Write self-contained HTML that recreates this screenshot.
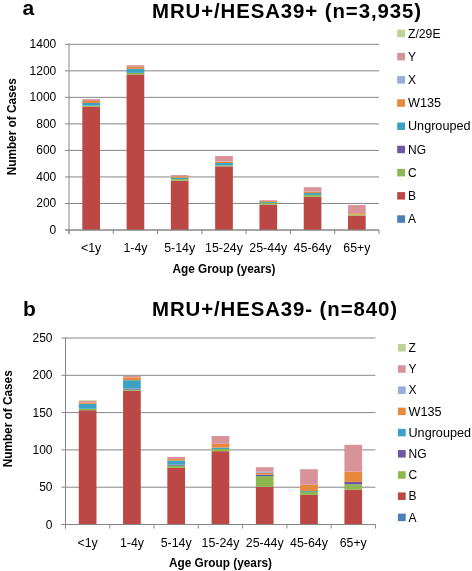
<!DOCTYPE html>
<html><head><meta charset="utf-8"><style>
html,body{margin:0;padding:0;background:#fff;}
body{width:472px;height:571px;overflow:hidden;font-family:"Liberation Sans",sans-serif;}
svg{display:block;will-change:transform;}
</style></head><body>
<svg width="472" height="571" viewBox="0 0 472 571" font-family="Liberation Sans, sans-serif" fill="#000">
<rect x="0" y="0" width="472" height="571" fill="#fff"/>
<line x1="65.0" y1="230.00" x2="379.0" y2="230.00" stroke="#868686" stroke-width="1"/>
<text x="56.30" y="233.90" font-size="12" text-anchor="end" >0</text>
<line x1="65.0" y1="203.47" x2="379.0" y2="203.47" stroke="#868686" stroke-width="1"/>
<text x="56.30" y="207.37" font-size="12" text-anchor="end" >200</text>
<line x1="65.0" y1="176.94" x2="379.0" y2="176.94" stroke="#868686" stroke-width="1"/>
<text x="56.30" y="180.84" font-size="12" text-anchor="end" >400</text>
<line x1="65.0" y1="150.41" x2="379.0" y2="150.41" stroke="#868686" stroke-width="1"/>
<text x="56.30" y="154.31" font-size="12" text-anchor="end" >600</text>
<line x1="65.0" y1="123.89" x2="379.0" y2="123.89" stroke="#868686" stroke-width="1"/>
<text x="56.30" y="127.79" font-size="12" text-anchor="end" >800</text>
<line x1="65.0" y1="97.36" x2="379.0" y2="97.36" stroke="#868686" stroke-width="1"/>
<text x="56.30" y="101.26" font-size="12" text-anchor="end" >1000</text>
<line x1="65.0" y1="70.83" x2="379.0" y2="70.83" stroke="#868686" stroke-width="1"/>
<text x="56.30" y="74.73" font-size="12" text-anchor="end" >1200</text>
<line x1="65.0" y1="44.30" x2="379.0" y2="44.30" stroke="#868686" stroke-width="1"/>
<text x="56.30" y="48.20" font-size="12" text-anchor="end" >1400</text>
<rect x="82.29" y="106.60" width="17.70" height="123.40" fill="#BB4845"/>
<rect x="82.29" y="105.70" width="17.70" height="0.90" fill="#8DB84F"/>
<rect x="82.29" y="103.00" width="17.70" height="2.70" fill="#3AA3C4"/>
<rect x="82.29" y="101.00" width="17.70" height="2.00" fill="#E8883A"/>
<rect x="82.29" y="99.10" width="17.70" height="1.90" fill="#D8939A"/>
<text x="91.14" y="251.80" font-size="12" text-anchor="middle" textLength="20.3" lengthAdjust="spacingAndGlyphs">&lt;1y</text>
<rect x="126.58" y="74.40" width="17.70" height="155.60" fill="#BB4845"/>
<rect x="126.58" y="72.90" width="17.70" height="1.50" fill="#8DB84F"/>
<rect x="126.58" y="68.80" width="17.70" height="4.10" fill="#3AA3C4"/>
<rect x="126.58" y="66.90" width="17.70" height="1.90" fill="#E8883A"/>
<rect x="126.58" y="65.20" width="17.70" height="1.70" fill="#D8939A"/>
<text x="135.43" y="251.80" font-size="12" text-anchor="middle" textLength="24.0" lengthAdjust="spacingAndGlyphs">1-4y</text>
<rect x="170.86" y="180.70" width="17.70" height="49.30" fill="#BB4845"/>
<rect x="170.86" y="179.10" width="17.70" height="1.60" fill="#8DB84F"/>
<rect x="170.86" y="177.70" width="17.70" height="1.40" fill="#3AA3C4"/>
<rect x="170.86" y="176.30" width="17.70" height="1.40" fill="#E8883A"/>
<rect x="170.86" y="175.10" width="17.70" height="1.20" fill="#D8939A"/>
<text x="179.71" y="251.80" font-size="12" text-anchor="middle" textLength="31.0" lengthAdjust="spacingAndGlyphs">5-14y</text>
<rect x="215.15" y="166.30" width="17.70" height="63.70" fill="#BB4845"/>
<rect x="215.15" y="165.40" width="17.70" height="0.90" fill="#8DB84F"/>
<rect x="215.15" y="163.00" width="17.70" height="2.40" fill="#3AA3C4"/>
<rect x="215.15" y="161.60" width="17.70" height="1.40" fill="#E8883A"/>
<rect x="215.15" y="156.00" width="17.70" height="5.60" fill="#D8939A"/>
<text x="224.00" y="251.80" font-size="12" text-anchor="middle" textLength="37.9" lengthAdjust="spacingAndGlyphs">15-24y</text>
<rect x="259.44" y="204.60" width="17.70" height="25.40" fill="#BB4845"/>
<rect x="259.44" y="202.90" width="17.70" height="1.70" fill="#8DB84F"/>
<rect x="259.44" y="201.90" width="17.70" height="1.00" fill="#3AA3C4"/>
<rect x="259.44" y="201.00" width="17.70" height="0.90" fill="#E8883A"/>
<rect x="259.44" y="200.20" width="17.70" height="0.80" fill="#D8939A"/>
<text x="268.29" y="251.80" font-size="12" text-anchor="middle" textLength="37.9" lengthAdjust="spacingAndGlyphs">25-44y</text>
<rect x="303.72" y="196.80" width="17.70" height="33.20" fill="#BB4845"/>
<rect x="303.72" y="194.90" width="17.70" height="1.90" fill="#8DB84F"/>
<rect x="303.72" y="193.00" width="17.70" height="1.90" fill="#3AA3C4"/>
<rect x="303.72" y="191.60" width="17.70" height="1.40" fill="#E8883A"/>
<rect x="303.72" y="187.20" width="17.70" height="4.40" fill="#D8939A"/>
<text x="312.57" y="251.80" font-size="12" text-anchor="middle" textLength="37.9" lengthAdjust="spacingAndGlyphs">45-64y</text>
<rect x="348.01" y="215.70" width="17.70" height="14.30" fill="#BB4845"/>
<rect x="348.01" y="214.50" width="17.70" height="1.20" fill="#8DB84F"/>
<rect x="348.01" y="213.20" width="17.70" height="1.30" fill="#E8883A"/>
<rect x="348.01" y="205.00" width="17.70" height="8.20" fill="#D8939A"/>
<text x="356.86" y="251.80" font-size="12" text-anchor="middle" textLength="27.0" lengthAdjust="spacingAndGlyphs">65+y</text>
<line x1="69.0" y1="43.80" x2="69.0" y2="234.0" stroke="#868686" stroke-width="1"/>
<line x1="65.0" y1="230.00" x2="379.0" y2="230.00" stroke="#868686" stroke-width="1"/>
<line x1="69.00" y1="230.00" x2="69.00" y2="234.00" stroke="#868686" stroke-width="1"/>
<line x1="113.29" y1="230.00" x2="113.29" y2="234.00" stroke="#868686" stroke-width="1"/>
<line x1="157.57" y1="230.00" x2="157.57" y2="234.00" stroke="#868686" stroke-width="1"/>
<line x1="201.86" y1="230.00" x2="201.86" y2="234.00" stroke="#868686" stroke-width="1"/>
<line x1="246.14" y1="230.00" x2="246.14" y2="234.00" stroke="#868686" stroke-width="1"/>
<line x1="290.43" y1="230.00" x2="290.43" y2="234.00" stroke="#868686" stroke-width="1"/>
<line x1="334.71" y1="230.00" x2="334.71" y2="234.00" stroke="#868686" stroke-width="1"/>
<line x1="379.00" y1="230.00" x2="379.00" y2="234.00" stroke="#868686" stroke-width="1"/>
<line x1="61.5" y1="524.50" x2="375.4" y2="524.50" stroke="#868686" stroke-width="1"/>
<text x="52.50" y="528.60" font-size="12" text-anchor="end" >0</text>
<line x1="61.5" y1="487.20" x2="375.4" y2="487.20" stroke="#868686" stroke-width="1"/>
<text x="52.50" y="491.30" font-size="12" text-anchor="end" >50</text>
<line x1="61.5" y1="449.90" x2="375.4" y2="449.90" stroke="#868686" stroke-width="1"/>
<text x="52.50" y="454.00" font-size="12" text-anchor="end" >100</text>
<line x1="61.5" y1="412.60" x2="375.4" y2="412.60" stroke="#868686" stroke-width="1"/>
<text x="52.50" y="416.70" font-size="12" text-anchor="end" >150</text>
<line x1="61.5" y1="375.30" x2="375.4" y2="375.30" stroke="#868686" stroke-width="1"/>
<text x="52.50" y="379.40" font-size="12" text-anchor="end" >200</text>
<line x1="61.5" y1="338.00" x2="375.4" y2="338.00" stroke="#868686" stroke-width="1"/>
<text x="52.50" y="342.10" font-size="12" text-anchor="end" >250</text>
<rect x="78.79" y="410.20" width="17.70" height="114.30" fill="#BB4845"/>
<rect x="78.79" y="408.80" width="17.70" height="1.40" fill="#8DB84F"/>
<rect x="78.79" y="403.80" width="17.70" height="5.00" fill="#3AA3C4"/>
<rect x="78.79" y="402.40" width="17.70" height="1.40" fill="#E8883A"/>
<rect x="78.79" y="400.80" width="17.70" height="1.60" fill="#D8939A"/>
<rect x="78.79" y="400.20" width="17.70" height="0.60" fill="#BBD493"/>
<text x="87.64" y="547.20" font-size="12" text-anchor="middle" textLength="20.3" lengthAdjust="spacingAndGlyphs">&lt;1y</text>
<rect x="123.06" y="390.80" width="17.70" height="133.70" fill="#BB4845"/>
<rect x="123.06" y="389.60" width="17.70" height="1.20" fill="#8DB84F"/>
<rect x="123.06" y="388.50" width="17.70" height="1.10" fill="#6E56A4"/>
<rect x="123.06" y="380.20" width="17.70" height="8.30" fill="#3AA3C4"/>
<rect x="123.06" y="377.40" width="17.70" height="2.80" fill="#E8883A"/>
<rect x="123.06" y="376.00" width="17.70" height="1.40" fill="#D8939A"/>
<text x="131.91" y="547.20" font-size="12" text-anchor="middle" textLength="24.0" lengthAdjust="spacingAndGlyphs">1-4y</text>
<rect x="167.33" y="467.90" width="17.70" height="56.60" fill="#BB4845"/>
<rect x="167.33" y="465.70" width="17.70" height="2.20" fill="#8DB84F"/>
<rect x="167.33" y="464.60" width="17.70" height="1.10" fill="#6E56A4"/>
<rect x="167.33" y="460.50" width="17.70" height="4.10" fill="#3AA3C4"/>
<rect x="167.33" y="459.10" width="17.70" height="1.40" fill="#E8883A"/>
<rect x="167.33" y="456.90" width="17.70" height="2.20" fill="#D8939A"/>
<text x="176.18" y="547.20" font-size="12" text-anchor="middle" textLength="31.0" lengthAdjust="spacingAndGlyphs">5-14y</text>
<rect x="211.60" y="451.20" width="17.70" height="73.30" fill="#BB4845"/>
<rect x="211.60" y="449.00" width="17.70" height="2.20" fill="#8DB84F"/>
<rect x="211.60" y="447.60" width="17.70" height="1.40" fill="#3AA3C4"/>
<rect x="211.60" y="443.80" width="17.70" height="3.80" fill="#E8883A"/>
<rect x="211.60" y="436.00" width="17.70" height="7.80" fill="#D8939A"/>
<text x="220.45" y="547.20" font-size="12" text-anchor="middle" textLength="37.9" lengthAdjust="spacingAndGlyphs">15-24y</text>
<rect x="255.87" y="486.70" width="17.70" height="37.80" fill="#BB4845"/>
<rect x="255.87" y="476.10" width="17.70" height="10.60" fill="#8DB84F"/>
<rect x="255.87" y="474.70" width="17.70" height="1.40" fill="#4A62B2"/>
<rect x="255.87" y="472.90" width="17.70" height="1.80" fill="#E8883A"/>
<rect x="255.87" y="471.70" width="17.70" height="1.20" fill="#93AEDB"/>
<rect x="255.87" y="467.20" width="17.70" height="4.50" fill="#D8939A"/>
<text x="264.72" y="547.20" font-size="12" text-anchor="middle" textLength="37.9" lengthAdjust="spacingAndGlyphs">25-44y</text>
<rect x="300.14" y="494.90" width="17.70" height="29.60" fill="#BB4845"/>
<rect x="300.14" y="491.90" width="17.70" height="3.00" fill="#8DB84F"/>
<rect x="300.14" y="491.00" width="17.70" height="0.90" fill="#3AA3C4"/>
<rect x="300.14" y="484.80" width="17.70" height="6.20" fill="#E8883A"/>
<rect x="300.14" y="469.20" width="17.70" height="15.60" fill="#D8939A"/>
<text x="308.99" y="547.20" font-size="12" text-anchor="middle" textLength="37.9" lengthAdjust="spacingAndGlyphs">45-64y</text>
<rect x="344.41" y="489.60" width="17.70" height="34.90" fill="#BB4845"/>
<rect x="344.41" y="484.30" width="17.70" height="5.30" fill="#8DB84F"/>
<rect x="344.41" y="481.90" width="17.70" height="2.40" fill="#6E56A4"/>
<rect x="344.41" y="471.60" width="17.70" height="10.30" fill="#E8883A"/>
<rect x="344.41" y="444.80" width="17.70" height="26.80" fill="#D8939A"/>
<text x="353.26" y="547.20" font-size="12" text-anchor="middle" textLength="27.0" lengthAdjust="spacingAndGlyphs">65+y</text>
<line x1="65.5" y1="337.50" x2="65.5" y2="528.5" stroke="#868686" stroke-width="1"/>
<line x1="61.5" y1="524.50" x2="375.4" y2="524.50" stroke="#868686" stroke-width="1"/>
<line x1="65.50" y1="524.50" x2="65.50" y2="528.50" stroke="#868686" stroke-width="1"/>
<line x1="109.77" y1="524.50" x2="109.77" y2="528.50" stroke="#868686" stroke-width="1"/>
<line x1="154.04" y1="524.50" x2="154.04" y2="528.50" stroke="#868686" stroke-width="1"/>
<line x1="198.31" y1="524.50" x2="198.31" y2="528.50" stroke="#868686" stroke-width="1"/>
<line x1="242.59" y1="524.50" x2="242.59" y2="528.50" stroke="#868686" stroke-width="1"/>
<line x1="286.86" y1="524.50" x2="286.86" y2="528.50" stroke="#868686" stroke-width="1"/>
<line x1="331.13" y1="524.50" x2="331.13" y2="528.50" stroke="#868686" stroke-width="1"/>
<line x1="375.40" y1="524.50" x2="375.40" y2="528.50" stroke="#868686" stroke-width="1"/>
<rect x="397.20" y="29.70" width="7.80" height="7.50" fill="#BBD493"/>
<text x="408.00" y="37.55" font-size="12" text-anchor="start" textLength="32.5" lengthAdjust="spacingAndGlyphs">Z/29E</text>
<rect x="397.20" y="52.90" width="7.80" height="7.50" fill="#D8939A"/>
<text x="408.00" y="60.75" font-size="12" text-anchor="start" >Y</text>
<rect x="397.20" y="76.10" width="7.80" height="7.50" fill="#93AEDB"/>
<text x="408.00" y="83.95" font-size="12" text-anchor="start" >X</text>
<rect x="397.20" y="99.30" width="7.80" height="7.50" fill="#E8883A"/>
<text x="408.00" y="107.15" font-size="12" text-anchor="start" textLength="33" lengthAdjust="spacingAndGlyphs">W135</text>
<rect x="397.20" y="122.50" width="7.80" height="7.50" fill="#3AA3C4"/>
<text x="408.00" y="130.35" font-size="12" text-anchor="start" textLength="62.5" lengthAdjust="spacingAndGlyphs">Ungrouped</text>
<rect x="397.20" y="145.70" width="7.80" height="7.50" fill="#6E56A4"/>
<text x="408.00" y="153.55" font-size="12" text-anchor="start" >NG</text>
<rect x="397.20" y="168.90" width="7.80" height="7.50" fill="#8DB84F"/>
<text x="408.00" y="176.75" font-size="12" text-anchor="start" >C</text>
<rect x="397.20" y="192.10" width="7.80" height="7.50" fill="#BB4845"/>
<text x="408.00" y="199.95" font-size="12" text-anchor="start" >B</text>
<rect x="397.20" y="215.30" width="7.80" height="7.50" fill="#4A7EBB"/>
<text x="408.00" y="223.15" font-size="12" text-anchor="start" >A</text>
<rect x="397.90" y="344.05" width="7.80" height="7.50" fill="#BBD493"/>
<text x="408.50" y="352.00" font-size="12" text-anchor="start" >Z</text>
<rect x="397.90" y="365.25" width="7.80" height="7.50" fill="#D8939A"/>
<text x="408.50" y="373.20" font-size="12" text-anchor="start" >Y</text>
<rect x="397.90" y="386.45" width="7.80" height="7.50" fill="#93AEDB"/>
<text x="408.50" y="394.40" font-size="12" text-anchor="start" >X</text>
<rect x="397.90" y="407.65" width="7.80" height="7.50" fill="#E8883A"/>
<text x="408.50" y="415.60" font-size="12" text-anchor="start" textLength="33" lengthAdjust="spacingAndGlyphs">W135</text>
<rect x="397.90" y="428.85" width="7.80" height="7.50" fill="#3AA3C4"/>
<text x="408.50" y="436.80" font-size="12" text-anchor="start" textLength="62.5" lengthAdjust="spacingAndGlyphs">Ungrouped</text>
<rect x="397.90" y="450.05" width="7.80" height="7.50" fill="#6E56A4"/>
<text x="408.50" y="458.00" font-size="12" text-anchor="start" >NG</text>
<rect x="397.90" y="471.25" width="7.80" height="7.50" fill="#8DB84F"/>
<text x="408.50" y="479.20" font-size="12" text-anchor="start" >C</text>
<rect x="397.90" y="492.45" width="7.80" height="7.50" fill="#BB4845"/>
<text x="408.50" y="500.40" font-size="12" text-anchor="start" >B</text>
<rect x="397.90" y="513.65" width="7.80" height="7.50" fill="#4A7EBB"/>
<text x="408.50" y="521.60" font-size="12" text-anchor="start" >A</text>
<text x="22.50" y="14.80" font-size="21" text-anchor="start" font-weight="bold" >a</text>
<text x="23.00" y="315.80" font-size="21" text-anchor="start" font-weight="bold" >b</text>
<text x="152.00" y="18.30" font-size="20.4" text-anchor="start" font-weight="bold" textLength="269" lengthAdjust="spacing">MRU+/HESA39+ (n=3,935)</text>
<text x="152.00" y="316.00" font-size="20.4" text-anchor="start" font-weight="bold" textLength="245" lengthAdjust="spacing">MRU+/HESA39- (n=840)</text>
<text x="224.00" y="272.50" font-size="12" text-anchor="middle" font-weight="bold" textLength="103" lengthAdjust="spacingAndGlyphs">Age Group (years)</text>
<text x="220.50" y="567.40" font-size="12" text-anchor="middle" font-weight="bold" textLength="103" lengthAdjust="spacingAndGlyphs">Age Group (years)</text>
<text transform="translate(16.4,126.8) rotate(-90)" x="0" y="0" font-size="12" font-weight="bold" text-anchor="middle" textLength="97" lengthAdjust="spacingAndGlyphs">Number of Cases</text>
<text transform="translate(11.8,418.8) rotate(-90)" x="0" y="0" font-size="12" font-weight="bold" text-anchor="middle" textLength="97" lengthAdjust="spacingAndGlyphs">Number of Cases</text>
</svg>
</body></html>
